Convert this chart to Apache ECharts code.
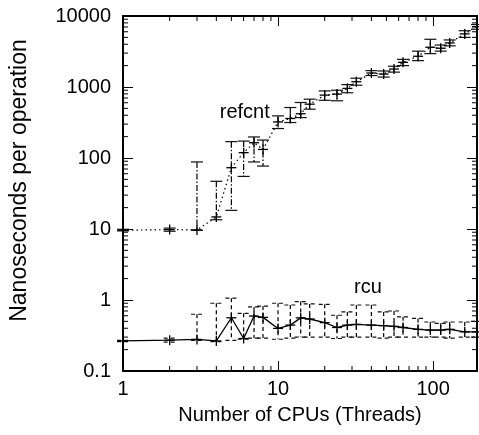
<!DOCTYPE html>
<html>
<head>
<meta charset="utf-8">
<script src="https://cdn.jsdelivr.net/npm/echarts@6/dist/echarts.min.js"></script>
<style>
  html, body { margin: 0; padding: 0; background: #fff; }
  #chart { width: 479px; height: 435px; }
</style>
</head>
<body>
<div id="chart"></div>
<script>
// number of CPUs (threads) on the x axis
var cpus = [1, 2, 3, 4, 5, 6, 7, 8, 10, 12, 14, 16, 20, 24, 28, 32, 40, 48, 56, 64, 80, 96, 112, 128, 160, 192];

// refcnt: ns per op, with error bar low / high
var refcntMean = [9.6, 9.8, 9.7, 14.8, 73, 119, 164, 132, 322, 360, 420, 573, 769, 794, 955, 1186, 1574, 1522, 1790, 2228, 2710, 3630, 3515, 4180, 5600, 7100];
var refcntLow  = [9.4, 9.3, 9.6, 13.5, 18.3, 55, 88, 77, 260, 316, 371, 487, 650, 640, 830, 1060, 1450, 1380, 1620, 2000, 2350, 2950, 3200, 3800, 5000, 6500];
var refcntHigh = [9.9, 10.3, 88, 47, 170, 173, 198, 179, 392, 514, 605, 674, 880, 900, 1080, 1330, 1700, 1680, 1960, 2450, 3200, 4700, 3900, 4600, 6200, 7600];

// rcu: ns per op, with error bar low / high
var rcuMean = [0.265, 0.272, 0.278, 0.265, 0.562, 0.287, 0.594, 0.569, 0.398, 0.443, 0.56, 0.54, 0.48, 0.41, 0.443, 0.453, 0.443, 0.435, 0.425, 0.41, 0.386, 0.377, 0.377, 0.386, 0.356, 0.356];
var rcuLow  = [0.26, 0.255, 0.27, 0.26, 0.27, 0.28, 0.29, 0.29, 0.28, 0.29, 0.3, 0.3, 0.3, 0.287, 0.3, 0.3, 0.3, 0.29, 0.3, 0.3, 0.3, 0.3, 0.3, 0.29, 0.3, 0.3];
var rcuHigh = [0.27, 0.29, 0.63, 0.9, 1.06, 0.65, 0.8, 0.82, 0.9, 0.85, 0.95, 0.88, 0.87, 0.61, 0.68, 0.85, 0.85, 0.68, 0.7, 0.58, 0.55, 0.49, 0.47, 0.49, 0.49, 0.5];

// minor tick values
var xMinor = [2, 3, 4, 5, 6, 7, 8, 9, 20, 30, 40, 50, 60, 70, 80, 90];
var yMinor = [];
[0.1, 1, 10, 100, 1000].forEach(function (d) {
  for (var k = 2; k <= 9; k++) yMinor.push(+(d * k).toPrecision(3));
});

// where the series names go (data coords)
var seriesLabels = [
  { name: 'refcnt', at: [6.1, 440] },
  { name: 'rcu', at: [38, 1.52] }
];

var FONT = 'Liberation Sans';

function pack(m, lo, hi) {
  return cpus.map(function (c, i) { return [c, m[i], lo[i], hi[i]]; });
}

function errRender(dash, capDash) {
  return function (params, api) {
    var x = api.value(0);
    var p = api.coord([x, api.value(1)]);
    var lo = api.coord([x, api.value(2)]);
    var hi = api.coord([x, api.value(3)]);
    var cap = 6, mk = 5;
    var st = { stroke: '#000', lineWidth: 1.2, lineDash: dash };
    var cs = { stroke: '#111', lineWidth: 1.2, lineDash: capDash };
    var ms = { stroke: '#000', lineWidth: 1.3 };
    return {
      type: 'group',
      children: [
        { type: 'line', shape: { x1: p[0], y1: hi[1], x2: p[0], y2: lo[1] }, style: st },
        { type: 'line', shape: { x1: p[0] - cap, y1: hi[1], x2: p[0] + cap, y2: hi[1] }, style: cs },
        { type: 'line', shape: { x1: p[0] - cap, y1: lo[1], x2: p[0] + cap, y2: lo[1] }, style: cs },
        { type: 'line', shape: { x1: p[0] - mk, y1: p[1], x2: p[0] + mk, y2: p[1] }, style: ms },
        { type: 'line', shape: { x1: p[0], y1: p[1] - mk, x2: p[0], y2: p[1] + mk }, style: ms }
      ]
    };
  };
}

var chart = echarts.init(document.getElementById('chart'));

var axisCommon = {
  type: 'log',
  logBase: 10,
  axisLine: { lineStyle: { color: '#000', width: 2 } },
  axisTick: { inside: true, length: 10, lineStyle: { color: '#000', width: 1 } },
  splitLine: { show: false },
  minorTick: { show: false }
};

function fmt(v) {
  var r = Math.round(Math.log10(v));
  if (Math.abs(Math.log10(v) - r) > 1e-6) return '';
  return String(+Math.pow(10, r).toPrecision(3));
}

var option = {
  animation: false,
  grid: { left: 123, right: 2, top: 16, bottom: 64 },
  xAxis: [
    Object.assign({}, axisCommon, {
      min: 1, max: 192,
      position: 'bottom',
      name: 'Number of CPUs (Threads)',
      nameLocation: 'middle',
      nameGap: 34,
      nameTextStyle: { fontFamily: FONT, fontSize: 20, color: '#000' },
      axisLabel: { fontFamily: FONT, fontSize: 20, color: '#000', margin: 8, formatter: fmt, showMaxLabel: false }
    }),
    Object.assign({}, axisCommon, {
      min: 1, max: 192,
      position: 'top',
      axisLabel: { show: false }
    })
  ],
  yAxis: [
    Object.assign({}, axisCommon, {
      min: 0.1, max: 10000,
      position: 'left',
      name: 'Nanoseconds per operation',
      nameLocation: 'middle',
      nameGap: 92,
      nameTextStyle: { fontFamily: FONT, fontSize: 23, color: '#000', padding: [0, 0, 0, 26] },
      axisLabel: { fontFamily: FONT, fontSize: 20, color: '#000', margin: 12, formatter: fmt }
    }),
    Object.assign({}, axisCommon, {
      min: 0.1, max: 10000,
      position: 'right',
      axisLabel: { show: false }
    })
  ],
  series: [
    {
      type: 'line',
      data: cpus.map(function (c, i) { return [c, refcntMean[i]]; }),
      showSymbol: false,
      lineStyle: { color: '#000', width: 1.2, type: [1.5, 3] },
      z: 3
    },
    {
      type: 'custom',
      data: pack(refcntMean, refcntLow, refcntHigh),
      renderItem: errRender([6, 2, 1.5, 2], null),
      z: 4
    },
    {
      type: 'line',
      data: cpus.map(function (c, i) { return [c, rcuMean[i]]; }),
      showSymbol: false,
      lineStyle: { color: '#000', width: 1.3 },
      z: 3
    },
    {
      type: 'custom',
      data: pack(rcuMean, rcuLow, rcuHigh),
      renderItem: errRender([4, 3], [4, 3]),
      z: 2
    },
    // minor ticks on the x axis (bottom and top)
    {
      type: 'custom',
      data: xMinor.map(function (v) { return [v, 1]; }),
      renderItem: function (params, api) {
        var cs = params.coordSys;
        var x = api.coord([api.value(0), 1])[0];
        var s = { stroke: '#000', lineWidth: 1 };
        return {
          type: 'group',
          children: [
            { type: 'line', shape: { x1: x, y1: cs.y + cs.height, x2: x, y2: cs.y + cs.height - 5 }, style: s },
            { type: 'line', shape: { x1: x, y1: cs.y, x2: x, y2: cs.y + 5 }, style: s }
          ]
        };
      },
      silent: true
    },
    // minor ticks on the y axis (left and right)
    {
      type: 'custom',
      data: yMinor.map(function (v) { return [1, v]; }),
      renderItem: function (params, api) {
        var cs = params.coordSys;
        var y = api.coord([1, api.value(1)])[1];
        var s = { stroke: '#000', lineWidth: 1 };
        return {
          type: 'group',
          children: [
            { type: 'line', shape: { x1: cs.x, y1: y, x2: cs.x + 5, y2: y }, style: s },
            { type: 'line', shape: { x1: cs.x + cs.width, y1: y, x2: cs.x + cs.width - 5, y2: y }, style: s }
          ]
        };
      },
      silent: true
    },
    // series name labels
    {
      type: 'custom',
      data: seriesLabels.map(function (d) { return [d.at[0], d.at[1], d.name]; }),
      renderItem: function (params, api) {
        var p = api.coord([api.value(0), api.value(1)]);
        return {
          type: 'text',
          x: p[0], y: p[1],
          style: {
            text: seriesLabels[params.dataIndex].name,
            fontFamily: FONT, fontSize: 20, fill: '#000',
            align: 'center', verticalAlign: 'middle'
          }
        };
      },
      silent: true
    }
  ]
};

chart.setOption(option);
</script>
</body>
</html>
